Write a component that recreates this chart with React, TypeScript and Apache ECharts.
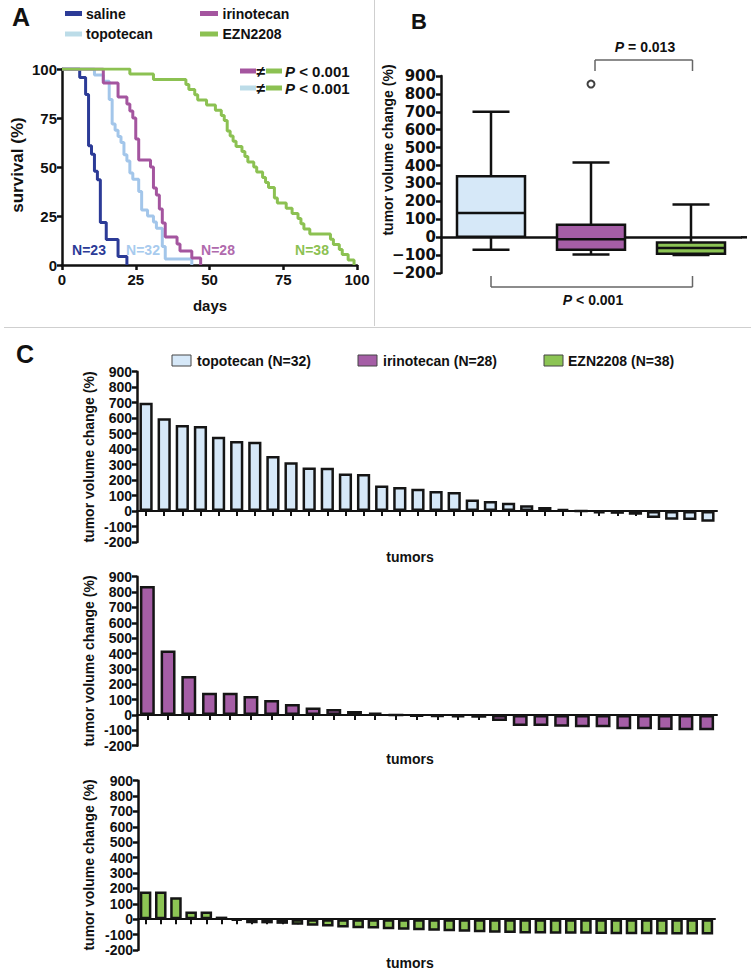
import React, { useEffect, useRef } from 'react';
import * as echarts from 'echarts';

const FONT = '"Liberation Sans", Arial, Helvetica, sans-serif';
const WIDE = '"DejaVu Sans", "Liberation Sans", sans-serif';

// ---------- Panel A: Kaplan-Meier survival ----------
const salineDays = [0, 6, 8, 9, 10, 11, 12, 13, 15, 19, 22];
const salineSurv = [100, 95.7, 87.0, 60.9, 56.5, 47.8, 43.5, 21.7, 13.0, 4.3, 0];
const topotecanDays = [0, 11, 14, 16, 17, 18, 19, 20, 21, 22, 23, 24, 26, 27, 29, 31, 32, 34, 35, 44];
const topotecanSurv = [100, 96.9, 93.8, 84.4, 71.9, 68.8, 65.6, 62.5, 56.3, 53.1, 46.9, 43.8, 37.5, 28.1, 25, 21.9, 18.8, 9.4, 3.1, 0];
const irinotecanDays = [0, 14, 19, 22, 23, 24, 25, 26, 30, 31, 32, 33, 34, 35, 39, 40, 44, 47];
const irinotecanSurv = [100, 92.9, 85.7, 82.1, 78.6, 75, 64.3, 53.6, 50, 39.3, 35.7, 28.6, 21.4, 14.3, 10.7, 7.1, 3.6, 0];
const eznDays = [0, 23, 31, 42, 43, 45, 46, 49, 52, 54, 55, 56, 57, 58, 59, 61, 62, 63, 65, 66, 68, 69, 70, 72, 73, 76, 78, 80, 81, 82, 84, 91, 92, 94, 95, 97, 99];
const eznSurv = [100, 97.4, 94.7, 92.1, 89.5, 86.8, 84.2, 81.6, 78.9, 76.3, 73.7, 68.4, 65.8, 63.2, 60.5, 57.9, 55.3, 52.6, 50, 47.4, 44.7, 42.1, 39.5, 34.2, 31.6, 28.9, 26.3, 23.7, 21.1, 18.4, 15.8, 13.2, 10.5, 7.9, 5.3, 2.6, 0];

// ---------- Panel B: box plots ----------
const boxGroups = ['topotecan', 'irinotecan', 'EZN2208'];
const boxMin = [-70, -97, -100];
const boxQ1 = [3, -70, -93];
const boxMedian = [135, -12, -60];
const boxQ3 = [340, 70, -30];
const boxMax = [700, 417, 182];
const outlierGroup = [1];
const outlierValue = [855];

// ---------- Panel C: waterfall ----------
const topotecanChange = [700, 600, 555, 550, 480, 452, 447, 355, 315, 282, 280, 243, 239, 165, 155, 144, 130, 123, 75, 65, 54, 37, 26, 15, 0, -15, -18, -24, -45, -56, -58, -70];
const irinotecanChange = [840, 420, 254, 145, 145, 124, 98, 72, 48, 39, 26, 15, 0, -10, -12, -15, -18, -40, -72, -72, -76, -80, -80, -93, -93, -97, -100, -100];
const eznChange = [180, 180, 143, 50, 50, 17, -8, -26, -27, -30, -36, -42, -48, -54, -58, -60, -65, -68, -72, -75, -78, -82, -85, -88, -90, -92, -92, -94, -95, -95, -96, -97, -98, -98, -99, -100, -100, -100];

const C_SALINE = '#2c3b97';
const C_TOPO = '#a3c6ea';
const C_TOPO_SW = '#bcdce8';
const C_IRINO = '#a4559f';
const C_EZN = '#8cc152';
const F_TOPO = '#d6e8f8';
const F_IRINO = '#a55ea6';
const F_EZN = '#8cc454';
const INK = '#111';

const zip = (a: number[], b: number[]) => a.map((v, i) => [v, b[i]]);

function txt(x: number, y: number, text: string, size: number, o: any = {}) {
  const align = o.align || 'center';
  return {
    type: 'text', x, y, rotation: o.rotation || 0, silent: true, z: 10,
    style: {
      text, fill: o.color || INK, fontSize: size, fontWeight: 'bold',
      fontFamily: o.family || FONT, fontStyle: 'normal',
      textAlign: align, align, textVerticalAlign: 'middle', verticalAlign: 'middle',
      rich: o.rich,
    },
  };
}
const pRich = (size: number) => ({
  i: { fontStyle: 'italic', fontWeight: 'bold', fontSize: size, fontFamily: FONT, fill: INK },
  n: { fontWeight: 'bold', fontSize: size, fontFamily: FONT, fill: INK },
});
function ln(x1: number, y1: number, x2: number, y2: number, stroke = INK, w = 1) {
  return { type: 'line', silent: true, shape: { x1, y1, x2, y2 }, style: { stroke, lineWidth: w } };
}
function rc(x: number, y: number, w: number, h: number, fill: string, stroke?: string) {
  return { type: 'rect', silent: true, shape: { x, y, width: w, height: h }, style: stroke ? { fill, stroke, lineWidth: 1 } : { fill } };
}

function valueAxisStyle(size: number, family = FONT, margin = 5) {
  return {
    axisLine: { show: true, onZero: false, lineStyle: { color: INK, width: 2.5 } },
    axisTick: { show: true, length: 5, lineStyle: { color: INK, width: 2.5 } },
    axisLabel: { color: INK, fontSize: size, fontWeight: 'bold', fontFamily: family, margin },
    splitLine: { show: false },
  };
}

function buildOption(): any {
  const grids = [
    { left: 62, top: 69, width: 295, height: 196 },
    { left: 441, top: 76, width: 300, height: 197 },
    { left: 137, top: 371.7, width: 580, height: 170.3 },
    { left: 137, top: 576.7, width: 580, height: 169 },
    { left: 138, top: 780.7, width: 577, height: 169.3 },
  ].map((g) => ({ ...g, containLabel: false, outerBoundsMode: 'none' }));

  const catX = (gi: number, n: number) => ({
    type: 'category', gridIndex: gi, data: Array.from({ length: n }, (_, i) => String(i + 1)),
    axisLine: { show: true, onZero: true, lineStyle: { color: INK, width: 2 } },
    axisTick: { show: true, alignWithLabel: true, interval: 0, length: 5, lineStyle: { color: INK, width: 2 } },
    axisLabel: { show: false, interval: 0 },
    splitLine: { show: false },
  });
  const cY = (gi: number) => ({
    type: 'value', gridIndex: gi, min: -200, max: 900, interval: 100,
    ...valueAxisStyle(14, FONT, 5),
  });

  const kmLine = (name: string, days: number[], surv: number[], color: string) => ({
    type: 'line', name, xAxisIndex: 0, yAxisIndex: 0, step: 'end', showSymbol: false, symbol: 'none',
    data: zip(days, surv), lineStyle: { color, width: 3 }, itemStyle: { color }, silent: true,
  });

  const barSeries = (idx: number, values: number[], fill: string, width: string) => ({
    type: 'bar', xAxisIndex: idx, yAxisIndex: idx, data: values, barWidth: width,
    itemStyle: { color: fill, borderColor: '#151515', borderWidth: 2.5 }, silent: true,
  });

  const boxFills = [F_TOPO, F_IRINO, F_EZN];
  const boxData = boxGroups.map((_, i) => [i, boxMin[i], boxQ1[i], boxMedian[i], boxQ3[i], boxMax[i]]);

  const graphic: any[] = [
    // separators
    ln(374.5, 0, 374.5, 326, '#cfcfcf', 1),
    ln(4, 327.5, 751, 327.5, '#cfcfcf', 1),
    // Panel A
    txt(21, 17, 'A', 25),
    rc(65, 11, 17, 5, C_SALINE), txt(86, 13.5, 'saline', 14, { align: 'left' }),
    rc(65, 31.5, 17, 5, C_TOPO_SW), txt(86, 34, 'topotecan', 14, { align: 'left' }),
    rc(200, 11, 18, 5, C_IRINO), txt(222.5, 13.5, 'irinotecan', 14, { align: 'left' }),
    rc(200, 31.5, 18, 5, C_EZN), txt(222.5, 34, 'EZN2208', 14, { align: 'left' }),
    rc(240, 68.5, 16, 5, C_IRINO), txt(261, 71, '≠', 16), rc(266, 68.5, 16, 5, C_EZN),
    txt(285, 71, '{i|P}{n| < 0.001}', 15, { align: 'left', rich: pRich(15) }),
    rc(240, 85.5, 16, 5, C_TOPO_SW), txt(261, 88, '≠', 16), rc(266, 85.5, 16, 5, C_EZN),
    txt(285, 88, '{i|P}{n| < 0.001}', 15, { align: 'left', rich: pRich(15) }),
    txt(89, 250, 'N=23', 14, { color: C_SALINE }),
    txt(143, 250, 'N=32', 14, { color: '#a8cbee' }),
    txt(218, 250, 'N=28', 14, { color: '#b06aad' }),
    txt(312, 250, 'N=38', 14, { color: C_EZN }),
    txt(17, 165, 'survival (%)', 17, { rotation: Math.PI / 2 }),
    txt(210, 305, 'days', 15),
    // Panel B
    txt(419, 21, 'B', 22),
    txt(388, 150, 'tumor volume change (%)', 14, { rotation: Math.PI / 2 }),
    txt(645, 47, '{i|P}{n| = 0.013}', 14, { rich: pRich(14) }),
    ln(595, 60, 692.5, 60, '#666', 1.5), ln(595, 60, 595, 71, '#666', 1.5), ln(692.5, 60, 692.5, 71, '#666', 1.5),
    ln(491, 287, 692.5, 287, '#666', 1.5), ln(491, 287, 491, 276, '#666', 1.5), ln(692.5, 287, 692.5, 276, '#666', 1.5),
    txt(593, 300, '{i|P}{n| < 0.001}', 14, { rich: pRich(14) }),
    ln(741, 237.3, 747, 237.3, INK, 2.5),
    // Panel C
    txt(25, 354, 'C', 25),
    rc(172, 355, 19, 11, F_TOPO, '#444'), txt(197, 361, 'topotecan (N=32)', 14, { align: 'left' }),
    rc(358, 355, 19, 11, F_IRINO, '#444'), txt(383, 361, 'irinotecan (N=28)', 14, { align: 'left' }),
    rc(544, 355, 19, 11, F_EZN, '#444'), txt(568, 361, 'EZN2208 (N=38)', 14, { align: 'left' }),
    txt(89, 457, 'tumor volume change (%)', 14, { rotation: Math.PI / 2 }),
    txt(89, 661, 'tumor volume change (%)', 14, { rotation: Math.PI / 2 }),
    txt(89, 865, 'tumor volume change (%)', 14, { rotation: Math.PI / 2 }),
    txt(410, 557, 'tumors', 14),
    txt(410, 759, 'tumors', 14),
    txt(410, 963, 'tumors', 14),
  ];

  return {
    animation: false,
    backgroundColor: '#ffffff',
    textStyle: { fontFamily: FONT },
    grid: grids,
    xAxis: [
      { type: 'value', gridIndex: 0, min: 0, max: 100, interval: 25, ...valueAxisStyle(15, FONT, 7) },
      {
        type: 'category', gridIndex: 1, data: boxGroups,
        axisLine: { show: true, onZero: true, lineStyle: { color: INK, width: 2.5 } },
        axisTick: { show: false }, axisLabel: { show: false }, splitLine: { show: false },
      },
      catX(2, topotecanChange.length),
      catX(3, irinotecanChange.length),
      catX(4, eznChange.length),
    ],
    yAxis: [
      { type: 'value', gridIndex: 0, min: 0, max: 100, interval: 25, ...valueAxisStyle(15, FONT, 5) },
      {
        type: 'value', gridIndex: 1, min: -200, max: 900, interval: 100,
        ...valueAxisStyle(15, WIDE, 5),
        axisLabel: {
          color: INK, fontSize: 15, fontWeight: 'bold', fontFamily: WIDE, margin: 5,
          formatter: (v: number) => (v < 0 ? '\u2212' + Math.abs(v) : String(v)),
        },
      },
      cY(2), cY(3), cY(4),
    ],
    series: [
      kmLine('saline', salineDays, salineSurv, C_SALINE),
      kmLine('topotecan', topotecanDays, topotecanSurv, C_TOPO),
      kmLine('irinotecan', irinotecanDays, irinotecanSurv, C_IRINO),
      kmLine('EZN2208', eznDays, eznSurv, C_EZN),
      {
        type: 'custom', xAxisIndex: 1, yAxisIndex: 1, silent: true,
        data: boxData,
        encode: { x: 0, y: [1, 2, 3, 4, 5] },
        renderItem: (params: any, api: any) => {
          const c = api.value(0);
          const lo = api.coord([c, api.value(1)]);
          const q1 = api.coord([c, api.value(2)]);
          const md = api.coord([c, api.value(3)]);
          const q3 = api.coord([c, api.value(4)]);
          const hi = api.coord([c, api.value(5)]);
          const band = api.size([1, 0])[0];
          const bw = band * 0.68;
          const cw = band * 0.37;
          const cx = q1[0];
          const s = { stroke: INK, lineWidth: 2.5 };
          return {
            type: 'group',
            children: [
              { type: 'line', shape: { x1: cx, y1: q3[1], x2: cx, y2: hi[1] }, style: s },
              { type: 'line', shape: { x1: cx - cw / 2, y1: hi[1], x2: cx + cw / 2, y2: hi[1] }, style: s },
              { type: 'line', shape: { x1: cx, y1: q1[1], x2: cx, y2: lo[1] }, style: s },
              { type: 'line', shape: { x1: cx - cw / 2, y1: lo[1], x2: cx + cw / 2, y2: lo[1] }, style: s },
              {
                type: 'rect', shape: { x: cx - bw / 2, y: q3[1], width: bw, height: q1[1] - q3[1] },
                style: { fill: boxFills[params.dataIndex], stroke: INK, lineWidth: 2.5 },
              },
              { type: 'line', shape: { x1: cx - bw / 2, y1: md[1], x2: cx + bw / 2, y2: md[1] }, style: s },
            ],
          };
        },
      },
      {
        type: 'scatter', xAxisIndex: 1, yAxisIndex: 1, silent: true,
        data: outlierGroup.map((g, i) => [g, outlierValue[i]]),
        symbol: 'circle', symbolSize: 7,
        itemStyle: { color: '#ffffff', borderColor: INK, borderWidth: 2 },
      },
      barSeries(2, topotecanChange, F_TOPO, '73%'),
      barSeries(3, irinotecanChange, F_IRINO, '72%'),
      barSeries(4, eznChange, F_EZN, '76%'),
    ],
    graphic: { elements: graphic },
  };
}

export default function App() {
  const ref = useRef<HTMLDivElement>(null);
  useEffect(() => {
    if (!ref.current) return;
    const chart = echarts.init(ref.current, undefined, { renderer: 'svg' });
    chart.setOption(buildOption());
    return () => chart.dispose();
  }, []);
  return (
    <div
      ref={ref}
      style={{ position: 'absolute', left: 0, top: 0, width: 751, height: 972, background: '#fff' }}
    />
  );
}
